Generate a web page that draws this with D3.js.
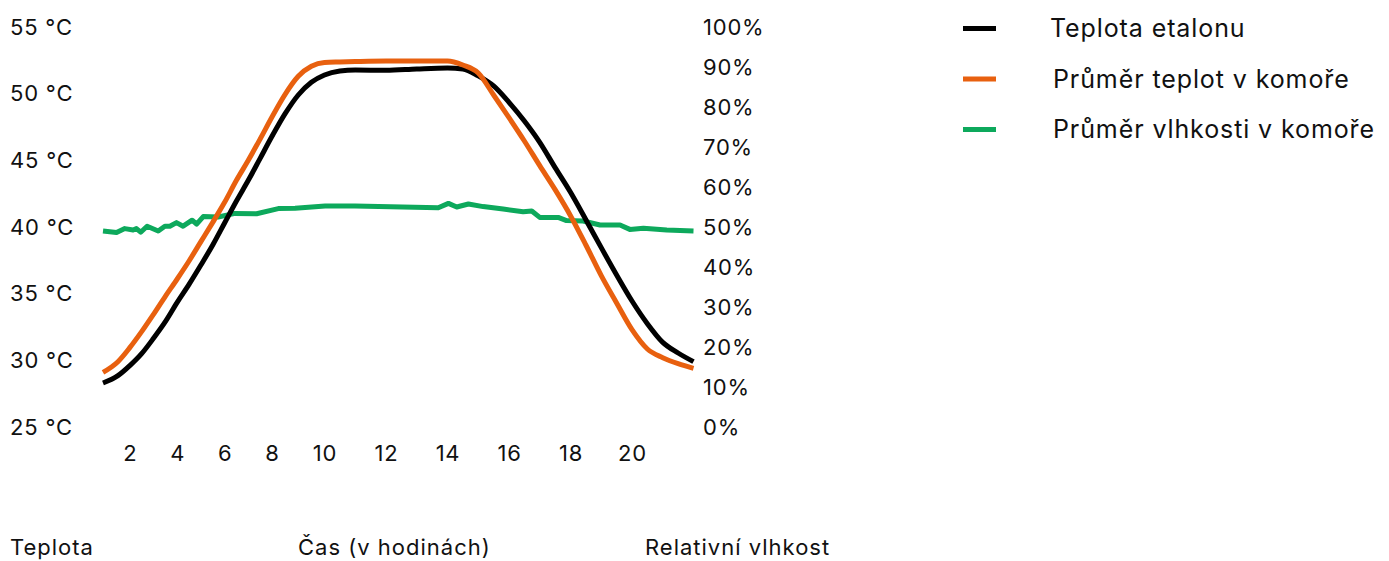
<!DOCTYPE html>
<html>
<head>
<meta charset="utf-8">
<script src="https://cdn.jsdelivr.net/npm/d3@7"></script>
<style>
  body { margin: 0; background: #fff; }
  svg text { font-family: Inter, "Liberation Sans", sans-serif; fill: #111; }
</style>
</head>
<body>
<svg id="chart" width="1389" height="561"></svg>
<script>
// Hours for the two temperature series
var tempHours = [0.87, 1.5, 2, 2.5, 3, 3.5, 4, 4.5, 5, 5.5, 6, 6.5, 7, 7.5, 8, 8.5, 9, 9.5, 10,
                 10.5, 11, 12, 13, 14, 14.5, 15, 15.5, 16, 16.5, 17, 17.5, 18, 18.5, 19, 19.5,
                 20, 20.5, 21, 21.5, 22];

// Teplota etalonu (°C)
var etalon = [28.3, 28.85, 29.6, 30.5, 31.65, 32.9, 34.35, 35.7, 37.15, 38.65, 40.3, 41.95, 43.5,
              45.15, 46.8, 48.5, 49.9, 50.85, 51.4, 51.7, 51.78, 51.75, 51.85, 51.92, 51.85, 51.33,
              50.58, 49.35, 47.95, 46.35, 44.45, 42.6, 40.55, 38.45, 36.4, 34.45, 32.75, 31.35,
              30.55, 29.9];

// Průměr teplot v komoře (°C)
var chamberTemp = [29.1, 29.9, 30.95, 32.15, 33.45, 34.8, 36.1, 37.45, 38.9, 40.35, 41.85, 43.5,
                   45.0, 46.6, 48.25, 49.95, 51.3, 52.05, 52.34, 52.38, 52.41, 52.45, 52.45, 52.45,
                   52.15, 51.55, 49.9, 48.2, 46.45, 44.6, 42.8, 40.85, 38.65, 36.35, 34.3, 32.3,
                   30.85, 30.2, 29.75, 29.4];

// Hours for the humidity series
var humHours = [0.87, 1.44, 1.79, 2.14, 2.28, 2.46, 2.73, 3.2, 3.48, 3.69, 3.97, 4.25, 4.63, 4.82,
                5.1, 5.73, 6.44, 7.35, 8.24, 8.88, 10.02, 10.99, 13.7, 14.03, 14.3, 14.68, 15.16,
                15.81, 16.46, 16.74, 17.0, 17.6, 17.87, 18.41, 18.96, 19.61, 19.93, 20.37, 21.13, 22];

// Průměr vlhkosti v komoře (%)
var humidity = [49, 48.6, 49.6, 49.25, 49.6, 48.7, 50.2, 49, 50.2, 50.2, 51.1, 50.2, 51.7, 50.7,
                52.6, 52.5, 53.4, 53.3, 54.6, 54.7, 55.25, 55.25, 54.8, 55.9, 55, 55.75, 55.1,
                54.5, 53.8, 54, 52.4, 52.4, 51.6, 51.5, 50.5, 50.5, 49.4, 49.7, 49.25, 49];

var hourTicks = [2, 4, 6, 8, 10, 12, 14, 16, 18, 20];
var tempTicks = [25, 30, 35, 40, 45, 50, 55];
var humTicks = [0, 10, 20, 30, 40, 50, 60, 70, 80, 90, 100];

var seriesNames = ["Teplota etalonu", "Průměr teplot v komoře", "Průměr vlhkosti v komoře"];
var seriesColors = ["#000000", "#e8600f", "#0da95c"];

var svg = d3.select("#chart");

// Time axis is not evenly spaced in the source, so the scale is piecewise
var xScale = d3.scaleLinear()
               .domain([0.87, 8, 10, 22])
               .range([103, 272, 324.5, 693.5]);

var yTemp = d3.scaleLinear().domain([25, 55]).range([427, 27]);
var yHum = d3.scaleLinear().domain([0, 100]).range([427, 27]);

// Left axis (°C)
var leftAxis = svg.append("g")
    .attr("transform", "translate(10,0)")
    .call(d3.axisRight(yTemp).tickValues(tempTicks).tickSize(0).tickPadding(0)
            .tickFormat(function(d) { return d + " °C"; }));

// Right axis (%)
var rightAxis = svg.append("g")
    .attr("transform", "translate(703,0)")
    .call(d3.axisRight(yHum).tickValues(humTicks).tickSize(0).tickPadding(0)
            .tickFormat(function(d) { return d + "%"; }));

// Bottom axis (hours)
var bottomAxis = svg.append("g")
    .attr("transform", "translate(0,427)")
    .call(d3.axisBottom(xScale).tickValues(hourTicks).tickSize(0).tickPadding(18)
            .tickFormat(d3.format("d")));

[leftAxis, rightAxis, bottomAxis].forEach(function(g) {
    g.select(".domain").remove();
    g.selectAll("text")
     .attr("font-family", null)
     .style("font-size", "22px")
     .style("letter-spacing", "0.8px")
     .attr("fill", "#111");
});

// Lines
var tempLine = function(values) {
    return d3.line()
             .x(function(d, i) { return xScale(tempHours[i]); })
             .y(function(d) { return yTemp(d); })
             .curve(d3.curveMonotoneX)(values);
};

var humLine = d3.line()
                .x(function(d, i) { return xScale(humHours[i]); })
                .y(function(d) { return yHum(d); });

svg.append("path")
   .attr("d", humLine(humidity))
   .attr("fill", "none")
   .attr("stroke", seriesColors[2])
   .attr("stroke-width", 5)
   .attr("stroke-linejoin", "round");

svg.append("path")
   .attr("d", tempLine(etalon))
   .attr("fill", "none")
   .attr("stroke", seriesColors[0])
   .attr("stroke-width", 5);

svg.append("path")
   .attr("d", tempLine(chamberTemp))
   .attr("fill", "none")
   .attr("stroke", seriesColors[1])
   .attr("stroke-width", 5);

// Axis titles
var titles = [{text: "Teplota", x: 10}, {text: "Čas (v hodinách)", x: 298}, {text: "Relativní vlhkost", x: 645}];
svg.selectAll(".axis-title")
   .data(titles)
   .enter()
   .append("text")
   .classed("axis-title", true)
   .attr("x", function(d) { return d.x; })
   .attr("y", 547)
   .attr("dy", "0.35em")
   .style("font-size", "22px")
   .style("letter-spacing", "1px")
   .text(function(d) { return d.text; });

// Legend
var legend = svg.selectAll(".legend")
                .data(seriesNames)
                .enter()
                .append("g")
                .classed("legend", true)
                .attr("transform", function(d, i) { return "translate(963," + (28.5 + i * 50.5) + ")"; });

legend.append("line")
      .attr("x1", 0)
      .attr("x2", 33)
      .attr("stroke", function(d, i) { return seriesColors[i]; })
      .attr("stroke-width", 5);

legend.append("text")
      .attr("x", function(d, i) { return i === 0 ? 87 : 90; })
      .attr("dy", "0.35em")
      .style("font-size", "25px")
      .style("letter-spacing", "0.9px")
      .text(function(d) { return d; });
</script>
</body>
</html>
